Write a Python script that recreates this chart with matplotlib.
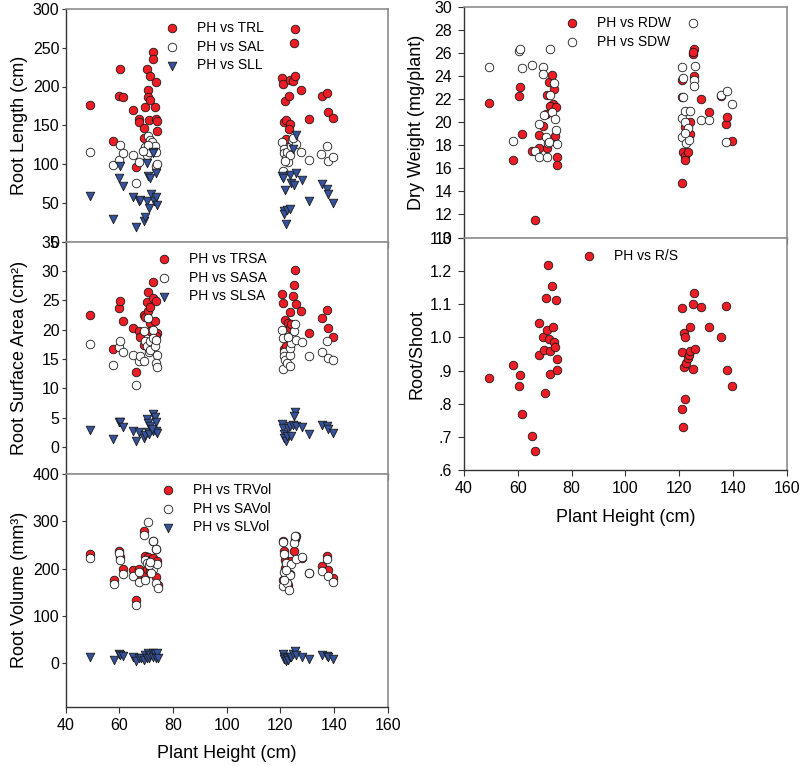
import matplotlib
matplotlib.use("Agg")
import matplotlib.pyplot as plt
from matplotlib.ticker import FuncFormatter

plt.rcParams['font.family'] = ['Liberation Sans', 'DejaVu Sans']

# ---------------- data ----------------
trl_x = [49.1, 57.8, 60.4, 59.9, 61.4, 65.0, 66.2, 67.5, 67.3, 69.1, 69.3, 69.7, 70.2, 70.6, 70.8, 71.4, 71.6, 71.2, 72.4, 72.7, 73.2, 73.8, 73.5, 74.0, 74.2,
         120.7, 120.9, 121.9, 121.2, 122.1, 122.0, 123.2, 123.5, 123.7, 123.2, 124.8, 125.5, 125.3, 125.1, 127.7, 130.8, 135.4, 137.3, 137.8, 139.6]
trl_y = [176, 130, 222, 188, 187, 170, 96, 158, 154, 146, 134, 174, 222, 196, 187, 213, 182, 157, 245, 235, 173, 206, 158, 156, 143,
         211, 203, 181, 154, 157, 132, 188, 209, 152, 145, 207, 213, 274, 256, 195, 158, 188, 192, 167, 159]
sal_x = [49.1, 57.8, 60.4, 59.9, 61.4, 65.0, 66.2, 67.5, 69.2, 69.7, 70.3, 70.8, 71.2, 71.4, 72.2, 72.8, 73.2, 73.8, 73.8, 74.2, 70.7, 68.7,
         120.7, 120.9, 121.2, 121.5, 122.0, 122.4, 123.0, 123.5, 123.9, 124.5, 125.7, 124.8, 127.7, 130.8, 135.2, 137.3, 137.8, 139.6, 121.9]
sal_y = [116, 99, 124, 105, 114, 111, 76, 103, 118, 122, 111, 136, 115, 131, 128, 120, 123, 115, 98, 100, 124, 117,
         128, 91, 120, 114, 108, 115, 102, 111, 123, 131, 126, 134, 116, 105, 113, 123, 104, 109, 104]
sll_x = [49.1, 57.8, 60.4, 59.9, 61.4, 65.0, 66.2, 67.5, 67.7, 69.3, 69.6, 70.2, 70.4, 70.8, 71.4, 71.2, 71.8, 72.7, 72.9, 73.8, 74.2, 73.8, 72.7,
         120.7, 120.9, 121.9, 121.2, 121.5, 122.0, 122.4, 123.6, 123.9, 125.1, 123.5, 125.7, 124.8, 125.7, 127.9, 130.8, 135.4, 137.3, 137.8, 139.6]
sll_y = [59, 29, 97, 82, 71, 57, 19, 52, 54, 27, 32, 101, 52, 85, 82, 43, 61, 116, 52, 58, 47, 89, 114,
         84, 82, 67, 40, 36, 23, 41, 42, 76, 73, 86, 88, 120, 138, 79, 52, 74, 68, 61, 50]

trsa_x = [49.1, 57.8, 59.9, 60.4, 61.4, 65.0, 66.2, 67.5, 67.6, 69.1, 69.7, 70.2, 70.6, 70.8, 71.4, 71.6, 72.4, 72.7, 73.2, 73.8, 74.0, 73.5, 71.4, 69.3,
          120.7, 120.9, 121.9, 122.4, 121.5, 122.9, 123.5, 123.7, 124.8, 124.9, 125.3, 125.7, 127.7, 130.8, 135.4, 137.3, 137.8, 139.6, 122.0, 123.9]
trsa_y = [22.4, 16.7, 23.6, 24.9, 21.5, 20.3, 12.7, 19.7, 18.8, 22.5, 22.1, 24.7, 23.2, 26.4, 23.8, 21.2, 28.1, 25.3, 21.5, 24.9, 19.5, 18.9, 19.7, 17.4,
          26.0, 24.5, 21.7, 18.7, 16.7, 21.1, 20.2, 23.0, 25.7, 27.6, 30.1, 24.3, 23.2, 19.4, 21.9, 23.4, 20.2, 18.8, 17.2, 21.0]
sasa_x = [49.1, 57.8, 59.9, 60.4, 61.4, 65.0, 66.2, 67.5, 67.6, 69.3, 69.1, 69.7, 70.2, 70.8, 71.2, 71.4, 71.6, 72.4, 72.7, 73.2, 73.8, 74.0, 73.8, 74.2,
          120.7, 120.9, 121.2, 121.5, 121.9, 120.9, 122.4, 123.5, 123.5, 123.5, 123.9, 124.9, 125.3, 125.7, 127.9, 130.8, 135.4, 137.3, 137.8, 139.6, 122.9]
sasa_y = [17.5, 14.0, 17.1, 18.1, 16.1, 15.6, 10.6, 14.7, 15.5, 14.6, 19.7, 18.0, 17.2, 22.0, 16.1, 18.1, 16.6, 19.9, 18.5, 17.2, 18.2, 15.6, 14.3, 13.7,
          19.9, 18.5, 16.1, 15.5, 14.9, 13.3, 14.3, 13.8, 15.7, 16.8, 17.7, 19.7, 21.0, 18.2, 17.8, 15.5, 16.2, 18.1, 15.2, 14.9, 18.8]
slsa_x = [49.1, 57.8, 59.9, 60.4, 61.4, 65.0, 66.2, 67.5, 69.1, 69.6, 70.2, 70.6, 70.8, 71.2, 71.4, 72.4, 72.7, 73.2, 73.8, 73.8, 74.2, 72.0,
          120.7, 120.9, 121.2, 121.5, 122.0, 122.4, 123.0, 123.6, 123.9, 124.8, 125.3, 125.1, 125.7, 127.9, 130.8, 135.4, 137.3, 137.8, 139.6]
slsa_y = [2.9, 1.4, 4.3, 4.2, 3.4, 2.8, 1.0, 2.6, 1.5, 2.0, 4.7, 2.6, 4.1, 2.2, 3.5, 5.6, 2.7, 5.1, 4.2, 2.7, 2.4, 3.0,
          3.9, 3.2, 2.2, 1.6, 1.0, 1.9, 3.2, 3.5, 1.8, 3.8, 6.0, 5.3, 3.6, 3.4, 2.2, 3.8, 3.5, 3.1, 2.4]

trvol_x = [49.1, 58.0, 60.0, 60.4, 61.5, 65.0, 66.3, 67.5, 67.5, 69.3, 69.6, 69.7, 70.8, 71.4, 72.7, 72.6, 73.8, 74.2, 74.3, 73.8, 70.2, 71.3,
           120.9, 121.2, 121.9, 120.9, 122.0, 123.0, 123.5, 123.9, 125.2, 125.5, 125.7, 127.9, 130.8, 135.4, 137.3, 137.9, 139.6, 121.8]
trvol_y = [230, 175, 237, 225, 199, 196, 133, 199, 179, 280, 185, 227, 224, 218, 222, 259, 183, 216, 165, 241, 199, 194,
           259, 237, 218, 175, 180, 165, 189, 216, 237, 262, 269, 222, 190, 206, 227, 197, 180, 201]
savol_x = [49.1, 58.0, 60.0, 60.4, 61.5, 65.0, 66.3, 67.5, 67.5, 69.3, 69.6, 69.7, 70.8, 70.2, 72.4, 73.8, 72.7, 74.2, 73.8, 74.3, 71.2, 71.8, 71.4,
           120.9, 121.2, 122.0, 121.2, 120.9, 122.5, 123.2, 123.5, 123.9, 125.2, 125.5, 125.7, 127.9, 130.8, 135.4, 137.3, 137.9, 139.6, 122.0, 121.5]
savol_y = [222, 167, 232, 219, 188, 185, 124, 192, 171, 272, 176, 218, 299, 211, 259, 242, 199, 210, 170, 160, 208, 190, 213,
           257, 231, 211, 192, 164, 170, 155, 187, 209, 254, 269, 221, 224, 190, 195, 220, 185, 171, 197, 176]
slvol_x = [49.1, 58.0, 60.0, 60.4, 61.5, 65.0, 66.3, 67.5, 68.0, 69.3, 69.7, 70.2, 70.8, 71.2, 71.4, 72.4, 72.7, 73.2, 73.8, 74.2, 74.3,
           120.9, 121.2, 121.5, 122.0, 122.4, 123.0, 123.5, 123.9, 124.8, 125.5, 125.7, 127.9, 130.8, 135.4, 137.3, 137.9, 139.6]
slvol_y = [14, 7, 20, 18, 15, 13, 5, 10, 12, 7, 18, 12, 22, 10, 18, 22, 14, 20, 12, 21, 10,
           19, 13, 8, 4, 11, 7, 14, 13, 19, 25, 18, 14, 8, 18, 15, 13, 9]

rdw_x = [49.4, 58.2, 60.3, 60.8, 61.7, 65.2, 66.5, 67.8, 68.0, 69.5, 70.5, 71.0, 71.7, 72.7, 73.1, 72.0, 73.5, 74.0, 74.3, 74.5, 74.5, 71.0,
         121.1, 121.1, 121.2, 121.6, 122.0, 122.2, 123.4, 124.0, 123.9, 125.2, 125.4, 125.7, 128.0, 131.0, 135.5, 137.6, 137.9, 139.8, 122.1, 125.2]
rdw_y = [21.7, 16.7, 22.3, 23.1, 19.0, 17.5, 11.5, 17.8, 18.9, 19.7, 20.7, 22.4, 23.5, 24.1, 21.6, 21.4, 22.9, 18.8, 21.3, 17.0, 16.3, 17.8,
         23.7, 14.7, 22.2, 17.4, 17.1, 16.7, 17.4, 19.0, 20.0, 25.9, 26.4, 24.0, 22.0, 20.9, 22.3, 19.9, 20.5, 18.4, 19.6, 26.1]
sdw_x = [49.4, 58.2, 60.3, 60.8, 61.7, 65.2, 66.5, 67.8, 68.0, 69.5, 69.5, 69.8, 70.5, 71.0, 71.2, 71.6, 72.0, 72.0, 72.8, 73.5, 74.0, 74.3, 74.5,
         121.1, 121.6, 121.6, 121.1, 121.1, 122.2, 122.2, 122.4, 123.4, 123.6, 123.9, 125.2, 125.4, 125.5, 125.8, 128.0, 131.0, 135.5, 137.9, 137.6, 139.8, 122.2]
sdw_y = [24.8, 18.4, 26.2, 26.4, 24.7, 25.0, 17.5, 17.0, 19.9, 24.8, 24.2, 20.6, 18.7, 17.0, 18.2, 18.3, 26.4, 22.4, 20.9, 23.4, 20.3, 19.3, 18.1,
         24.8, 23.9, 22.2, 20.4, 18.7, 21.0, 20.0, 18.2, 19.5, 18.5, 21.0, 28.6, 23.7, 23.2, 24.9, 20.2, 20.2, 22.4, 22.7, 18.3, 21.6, 19.1]

rs_x = [49.4, 58.2, 60.3, 60.8, 61.7, 65.2, 66.5, 67.8, 68.0, 69.5, 69.6, 70.0, 70.5, 71.0, 71.2, 71.5, 71.9, 72.0, 72.7, 73.1, 73.5, 74.0, 74.3, 74.5, 74.5,
        121.1, 121.1, 121.2, 121.6, 121.7, 121.9, 122.2, 122.2, 122.4, 123.4, 123.6, 123.9, 124.0, 125.2, 125.2, 125.4, 125.8, 128.0, 131.0, 135.5, 137.6, 137.9, 139.8]
rs_y = [0.878, 0.917, 0.853, 0.888, 0.769, 0.703, 0.659, 1.044, 0.948, 1.001, 0.963, 0.832, 1.117, 1.023, 1.218, 0.994, 0.891, 0.958, 1.155, 1.031, 0.985, 0.972, 1.113, 0.934, 0.903,
        0.785, 0.957, 1.087, 0.730, 0.912, 1.013, 1.001, 0.815, 0.923, 0.937, 0.948, 0.959, 1.031, 1.100, 0.905, 1.133, 0.966, 1.090, 1.030, 1.001, 1.094, 0.902, 0.854]

# ---------------- styling ----------------
W, H = 800, 766
RED = '#ee1c24'
WHITE = '#ffffff'
BLUE = '#34539c'
EDGE = '#1a1a1a'
MS = 38

fig = plt.figure(figsize=(W / 100, H / 100), dpi=100)


def add_ax(x0, y0, x1, y1):
    return fig.add_axes([x0 / W, 1 - y1 / H, (x1 - x0) / W, (y1 - y0) / H])


def style(ax, ylim, yticks, show_x, xlab_y=None, ypad=1.5, ylen=3):
    ax.set_xlim(40, 160)
    ax.set_ylim(*ylim)
    ax.set_yticks(yticks)
    ax.set_xticks([40, 60, 80, 100, 120, 140, 160])
    for s in ['left', 'bottom']:
        ax.spines[s].set_color('#333333')
        ax.spines[s].set_linewidth(1.0)
    for s in ['top', 'right']:
        ax.spines[s].set_color('#8c8c8c')
        ax.spines[s].set_linewidth(1.2)
    ax.tick_params(axis='y', direction='out', length=ylen, width=0.8, pad=ypad,
                   labelsize=11.5, color='#333333')
    ax.tick_params(axis='x', direction='out', length=4, width=0.8, pad=4,
                   labelsize=11.5, color='#333333', labelbottom=show_x)
    if show_x:
        ax.set_xlabel('Plant Height (cm)', fontsize=13)
        ax.xaxis.set_label_coords(0.5, xlab_y)


def sc(ax, x, y, color, marker='o', label=None, s=MS):
    ax.scatter(x, y, s=s, c=color, marker=marker, edgecolors=EDGE,
               linewidths=0.6, label=label, zorder=3)


def leg(ax, left_px, top_px):
    ax.legend(loc='upper left', bbox_to_anchor=(left_px / W, 1 - top_px / H),
              bbox_transform=fig.transFigure, frameon=False, fontsize=10,
              handlelength=1.0, handletextpad=1.3, labelspacing=0.33,
              borderpad=0, borderaxespad=0, scatterpoints=1)


# Left column
ax1 = add_ax(65.7, 9, 387.7, 241.5)
sc(ax1, trl_x, trl_y, RED, label='PH vs TRL')
sc(ax1, sal_x, sal_y, WHITE, label='PH vs SAL')
sc(ax1, sll_x, sll_y, BLUE, marker='v', label='PH vs SLL')
style(ax1, (0, 300), range(0, 301, 50), False)
ax1.set_ylabel('Root Length (cm)', fontsize=13)
ax1.yaxis.set_label_coords(-0.118, 0.5)
leg(ax1, 165, 21)

ax2 = add_ax(65.7, 241.5, 387.7, 474)
sc(ax2, trsa_x, trsa_y, RED, label='PH vs TRSA')
sc(ax2, sasa_x, sasa_y, WHITE, label='PH vs SASA')
sc(ax2, slsa_x, slsa_y, BLUE, marker='v', label='PH vs SLSA')
style(ax2, (-4.6, 35), range(0, 36, 5), False)
ax2.set_ylabel('Root Surface Area (cm\u00b2)', fontsize=13)
ax2.yaxis.set_label_coords(-0.118, 0.5)
leg(ax2, 157, 252)

ax3 = add_ax(65.7, 474, 387.7, 706.7)
sc(ax3, trvol_x, trvol_y, RED, label='PH vs TRVol')
sc(ax3, savol_x, savol_y, WHITE, label='PH vs SAVol')
sc(ax3, slvol_x, slvol_y, BLUE, marker='v', label='PH vs SLVol')
style(ax3, (-92, 400), range(0, 401, 100), True, xlab_y=-0.165)
ax3.set_ylabel('Root Volume (mm\u00b3)', fontsize=13)
ax3.yaxis.set_label_coords(-0.118, 0.5)
leg(ax3, 161, 483)

# Right column
ax4 = add_ax(464, 7.3, 786.7, 237.5)
sc(ax4, rdw_x, rdw_y, RED, label='PH vs RDW')
sc(ax4, sdw_x, sdw_y, WHITE, label='PH vs SDW')
style(ax4, (10, 30), range(10, 31, 2), False, ypad=4.5, ylen=4)
ax4.set_ylabel('Dry Weight (mg/plant)', fontsize=13)
ax4.yaxis.set_label_coords(-0.12, 0.5)
leg(ax4, 565, 16)

ax5 = add_ax(464, 237.5, 786.7, 470.3)
sc(ax5, rs_x, rs_y, RED, label='PH vs R/S')
style(ax5, (0.6, 1.3), [0.6, 0.7, 0.8, 0.9, 1.0, 1.1, 1.2, 1.3], True,
      xlab_y=-0.166, ypad=4.5, ylen=4)
ax5.yaxis.set_major_formatter(FuncFormatter(
    lambda v, p: ('%.1f' % v)[1:] if v < 1 else '%.1f' % v))
ax5.set_ylabel('Root/Shoot', fontsize=13)
ax5.yaxis.set_label_coords(-0.12, 0.5)
leg(ax5, 582, 249)

fig.savefig('out.png', dpi=100)
